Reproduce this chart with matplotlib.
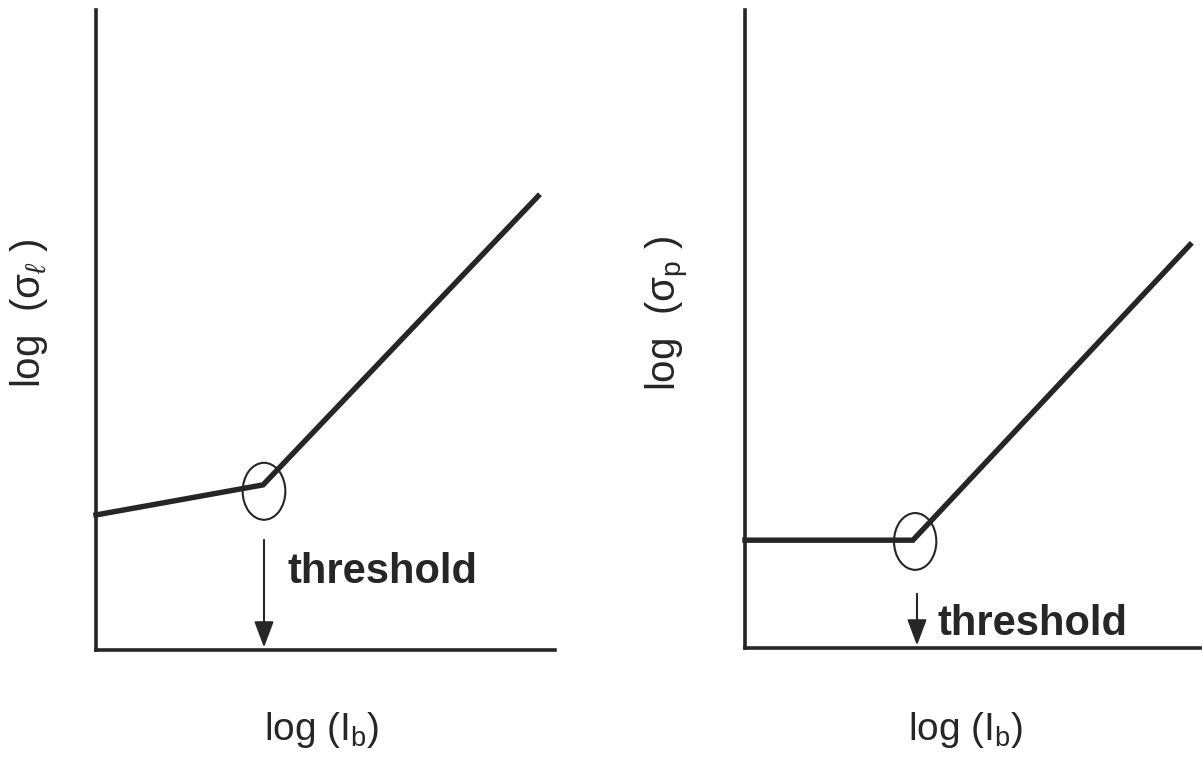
import numpy as np
import matplotlib.pyplot as plt
from matplotlib.patches import Ellipse
from matplotlib import font_manager

# pick a narrow Helvetica-like face if present
names = set(f.name for f in font_manager.fontManager.ttflist)
narrow = 'Liberation Sans Narrow' if 'Liberation Sans Narrow' in names else 'Liberation Sans'
plt.rcParams['font.family'] = [narrow, 'DejaVu Sans']
plt.rcParams['mathtext.fontset'] = 'custom'
plt.rcParams['mathtext.rm'] = narrow
plt.rcParams['mathtext.it'] = narrow + ':italic'

# schematic data (arbitrary log units, axes 0..10)
left_x = [0.0, 3.64, 9.63]
left_y = [2.11, 2.58, 7.09]
left_knee = (3.66, 2.48)
left_arrow = (3.66, 1.72, 0.04)   # x, y start, y end

right_x = [0.0, 3.69, 9.78]
right_y = [1.69, 1.69, 6.32]
right_knee = (3.74, 1.67)
right_arrow = (3.78, 0.85, 0.04)

ink = '#262626'

fig = plt.figure(figsize=(12.02, 7.57), dpi=100)
W, H = 1202, 757

def make_axes(x0, x1, ytop, ybot):
    return fig.add_axes([x0 / W, (H - ybot) / H, (x1 - x0) / W, (ybot - ytop) / H])

ax1 = make_axes(96, 555, 10, 650)
ax2 = make_axes(745, 1200, 10, 648)

panels = [
    (ax1, left_x, left_y, left_knee, left_arrow, (4.18, 1.05), r'log  (σ$_{\ell}$ )', (29, 314), (322, 740)),
    (ax2, right_x, right_y, right_knee, right_arrow, (4.24, 0.2), r'log  (σ$_{\rm p}$ )', (668, 313), (966, 740)),
]

for ax, xs, ys, knee, arr, tpos, ylab, ylpos, xlpos in panels:
    ax.set_xlim(0, 10)
    ax.set_ylim(0, 10)
    ax.plot(xs, ys, color=ink, lw=3.9, solid_joinstyle='miter', clip_on=False)
    ax.add_patch(Ellipse(knee, 0.93, 0.89, fill=False, ec=ink, lw=1.5, clip_on=False))
    ax.annotate('', xy=(arr[0], arr[2]), xytext=(arr[0], arr[1]),
                arrowprops=dict(arrowstyle='-|>,head_width=0.6,head_length=1.6',
                                color=ink, lw=1.5, shrinkA=0, shrinkB=0))
    ax.text(tpos[0], tpos[1], 'threshold', fontsize=30, fontweight='bold',
            color=ink, va='baseline', ha='left')
    for s in ['top', 'right']:
        ax.spines[s].set_visible(False)
    for s in ['left', 'bottom']:
        ax.spines[s].set_linewidth(2.6)
        ax.spines[s].set_color(ink)
    ax.set_xticks([])
    ax.set_yticks([])
    fig.text(ylpos[0] / W, (H - ylpos[1]) / H, ylab, rotation=90, fontsize=29,
             color=ink, ha='center', va='center')
    fig.text(xlpos[0] / W, (H - xlpos[1]) / H, r'log (I$_{\rm b}$)', fontsize=28,
             color=ink, ha='center', va='baseline')

fig.savefig('out.png', dpi=100)
